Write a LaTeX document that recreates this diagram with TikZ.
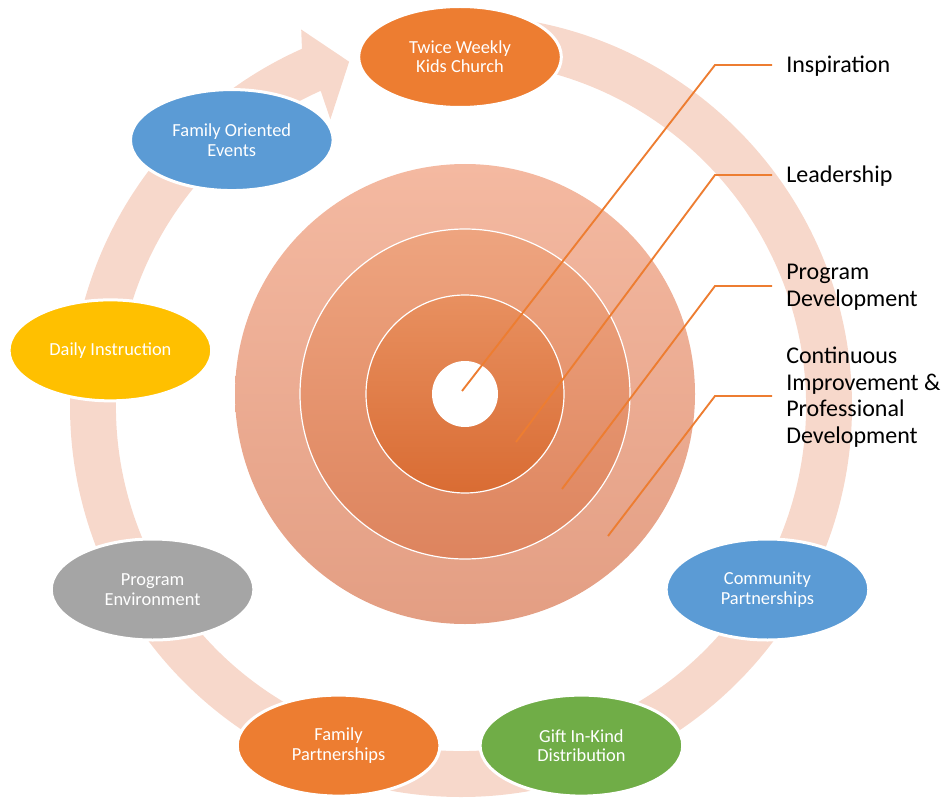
\documentclass[tikz,border=0pt]{standalone}
\usepackage{fontspec}
\setmainfont{Carlito}
\usetikzlibrary{shapes.geometric}

\definecolor{ringpeach}{HTML}{F7D8CB}
\definecolor{accorange}{HTML}{ED7D31}
\definecolor{accblue}{HTML}{5B9BD5}
\definecolor{accgold}{HTML}{FFC000}
\definecolor{accgrey}{HTML}{A5A5A5}
\definecolor{accgreen}{HTML}{70AD47}
\definecolor{outerTop}{HTML}{F4B9A1}
\definecolor{outerBot}{HTML}{E39E83}
\definecolor{midTop}{HTML}{EEA47F}
\definecolor{midBot}{HTML}{DD845E}
\definecolor{inTop}{HTML}{E89060}
\definecolor{inBot}{HTML}{D96C33}

\begin{document}
\begin{tikzpicture}[x=0.75pt,y=-0.75pt,
  stage/.style={ellipse, draw=white, line width=2.25pt,
    minimum width=152pt, minimum height=75.75pt, inner sep=0pt,
    text=white, align=center, font=\fontsize{13.8}{14.5}\selectfont},
  callout/.style={draw=accorange, line width=1.4pt},
  tag/.style={anchor=west, inner xsep=10.5pt, inner ysep=0pt, align=left,
    font=\fontsize{18}{20}\selectfont, text=black}
]
\useasboundingbox (0,0) rectangle (944,802);

% centres of the cycle ring, the stage nodes and the target
\coordinate (R) at (461,406);
\coordinate (C) at (460,412);
\coordinate (T) at (465,394);

% cycle ring ending in an arrow head
\fill[ringpeach] ([shift={(R)}]-90:391) arc[start angle=-90, end angle=246, radius=391]
  -- ([shift={(R)}]247:409) -- ([shift={(R)}]252:362) -- ([shift={(R)}]245.5:315)
  -- ([shift={(R)}]246:345) arc[start angle=246, end angle=-90, radius=345] -- cycle;

% concentric target
\path[top color=outerTop, bottom color=outerBot] (T) circle[radius=230];
\path[top color=midTop, bottom color=midBot, draw=white, line width=0.9pt] (T) circle[radius=165];
\path[top color=inTop, bottom color=inBot, draw=white, line width=0.9pt] (T) circle[radius=99];
\fill[white] (T) circle[radius=33];

% callout labels
\node[tag] (l1) at (772,66) {Inspiration};
\node[tag] (l2) at (772,176) {Leadership};
\node[tag] (l3) at (772,287) {Program\\Development};
\node[tag] (l4) at (772,397) {Continuous\\Improvement \&\\Professional\\Development};

\coordinate (p1) at (462,391);
\coordinate (p2) at (516,442);
\coordinate (p3) at (562,489);
\coordinate (p4) at (608,536);
\coordinate (k1) at (715,65);
\coordinate (k2) at (715,175);
\coordinate (k3) at (715,286);
\coordinate (k4) at (715,396);

\draw[callout] (p1) -- (k1) -- (k1 -| l1.west);
\draw[callout] (p2) -- (k2) -- (k2 -| l2.west);
\draw[callout] (p3) -- (k3) -- (k3 -| l3.west);
\draw[callout] (p4) -- (k4) -- (k4 -| l4.west);

% stages of the cycle
\node[stage, fill=accorange] (n1) at ([shift={(C)}]-90:355) {Twice Weekly\\Kids Church};
\node[stage, fill=accblue]   (n2) at ([shift={(C)}]30:355)  {Community\\Partnerships};
\node[stage, fill=accgreen]  (n3) at ([shift={(C)}]70:355)  {Gift In-Kind\\Distribution};
\node[stage, fill=accorange] (n4) at ([shift={(C)}]110:355) {Family\\Partnerships};
\node[stage, fill=accgrey]   (n5) at ([shift={(C)}]150:355) {Program\\Environment};
\node[stage, fill=accgold]   (n6) at ([shift={(C)}]190:355) {Daily Instruction};
\node[stage, fill=accblue]   (n7) at ([shift={(C)}]230:355) {Family Oriented\\Events};
\end{tikzpicture}
\end{document}
